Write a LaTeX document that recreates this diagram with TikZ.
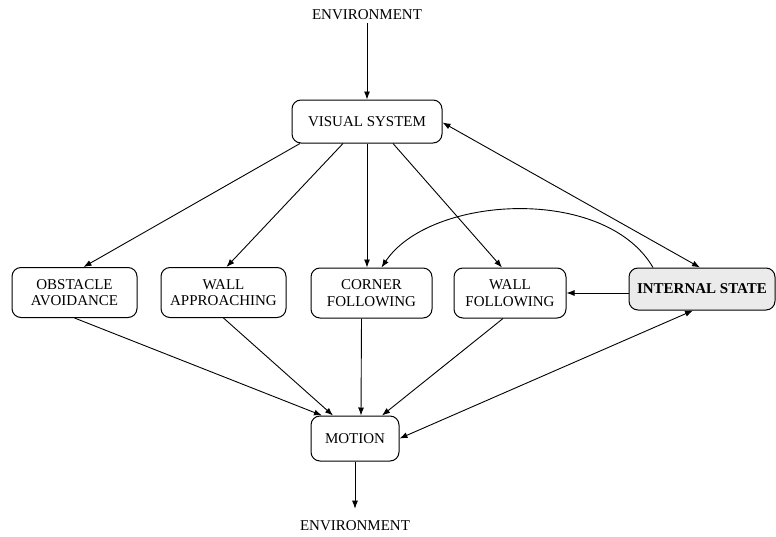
\documentclass[tikz,border=0pt]{standalone}
\usepackage{fontspec}
\setmainfont{Liberation Serif}
\usetikzlibrary{arrows.meta}
\definecolor{isfill}{HTML}{EBEBEB}
\begin{document}
\begin{tikzpicture}[x=1pt,y=-1pt,
  box/.style={draw,line width=1pt,rounded corners=9pt,align=center,inner sep=0pt,
    font=\fontsize{15}{16.7}\selectfont},
  lbl/.style={inner sep=0pt,font=\fontsize{15}{16.7}\selectfont},
  arr/.style={line width=0.9pt,-{Latex[length=8pt,width=6pt]}},
  darr/.style={line width=0.9pt,{Latex[length=8pt,width=6pt]}-{Latex[length=8pt,width=6pt]}}]
\useasboundingbox (0,0) rectangle (776,536);
\node[lbl] (envt) at (367,15) {ENVIRONMENT};
\node[lbl] (envb) at (355,526) {ENVIRONMENT};
\node[box,minimum width=150pt,minimum height=43pt] (vs) at (367,121.5) {VISUAL SYSTEM};
\node[box,minimum width=125pt,minimum height=50pt] (oa) at (74.5,292.5) {OBSTACLE\\AVOIDANCE};
\node[box,minimum width=125pt,minimum height=50pt] (wa) at (223.5,292.5) {WALL\\APPROACHING};
\node[box,minimum width=121pt,minimum height=50pt] (cf) at (371.5,293) {CORNER\\FOLLOWING};
\node[box,minimum width=112pt,minimum height=50pt] (wf) at (510,293) {WALL\\FOLLOWING};
\node[box,fill=isfill,minimum width=146pt,minimum height=42pt,font=\fontsize{15}{16.7}\selectfont\bfseries] (is) at (702,289) {INTERNAL STATE};
\node[box,minimum width=88pt,minimum height=45pt] (mo) at (355,438.5) {MOTION};
% top
\draw[arr] (envt.south -| vs.north) ++(0,3) -- (vs.north);
\draw[arr] ([xshift=-67pt]vs.south) -- ([xshift=9pt]oa.north);
\draw[arr] ([xshift=-24pt]vs.south) -- ([xshift=3pt]wa.north);
\draw[arr] (vs.south) -- (vs.south |- cf.north);
\draw[arr] ([xshift=26pt]vs.south) -- ([xshift=-8pt]wf.north);
\draw[darr] ([yshift=-1pt]vs.east) -- ([xshift=-2pt]is.north);
\draw[arr] ([xshift=-49pt]is.north) .. controls (605,185) and (430,195) .. ([xshift=10pt]cf.north);
\draw[arr] ([yshift=-4pt]is.west) -- ([yshift=-4pt]is.west -| wf.east);
% bottom
\draw[arr] (oa.south) -- ([xshift=-33pt]mo.north);
\draw[arr] (wa.south) -- ([xshift=-22pt]mo.north);
\draw[arr] ([xshift=-10pt]cf.south) -- ([xshift=6pt]mo.north);
\draw[arr] ([xshift=-7pt]wf.south) -- ([xshift=27pt]mo.north);
\draw[darr] (mo.east) -- ([xshift=-9pt]is.south);
\draw[arr] (mo.south) -- ([yshift=12pt]envb.north);
\end{tikzpicture}
\end{document}
